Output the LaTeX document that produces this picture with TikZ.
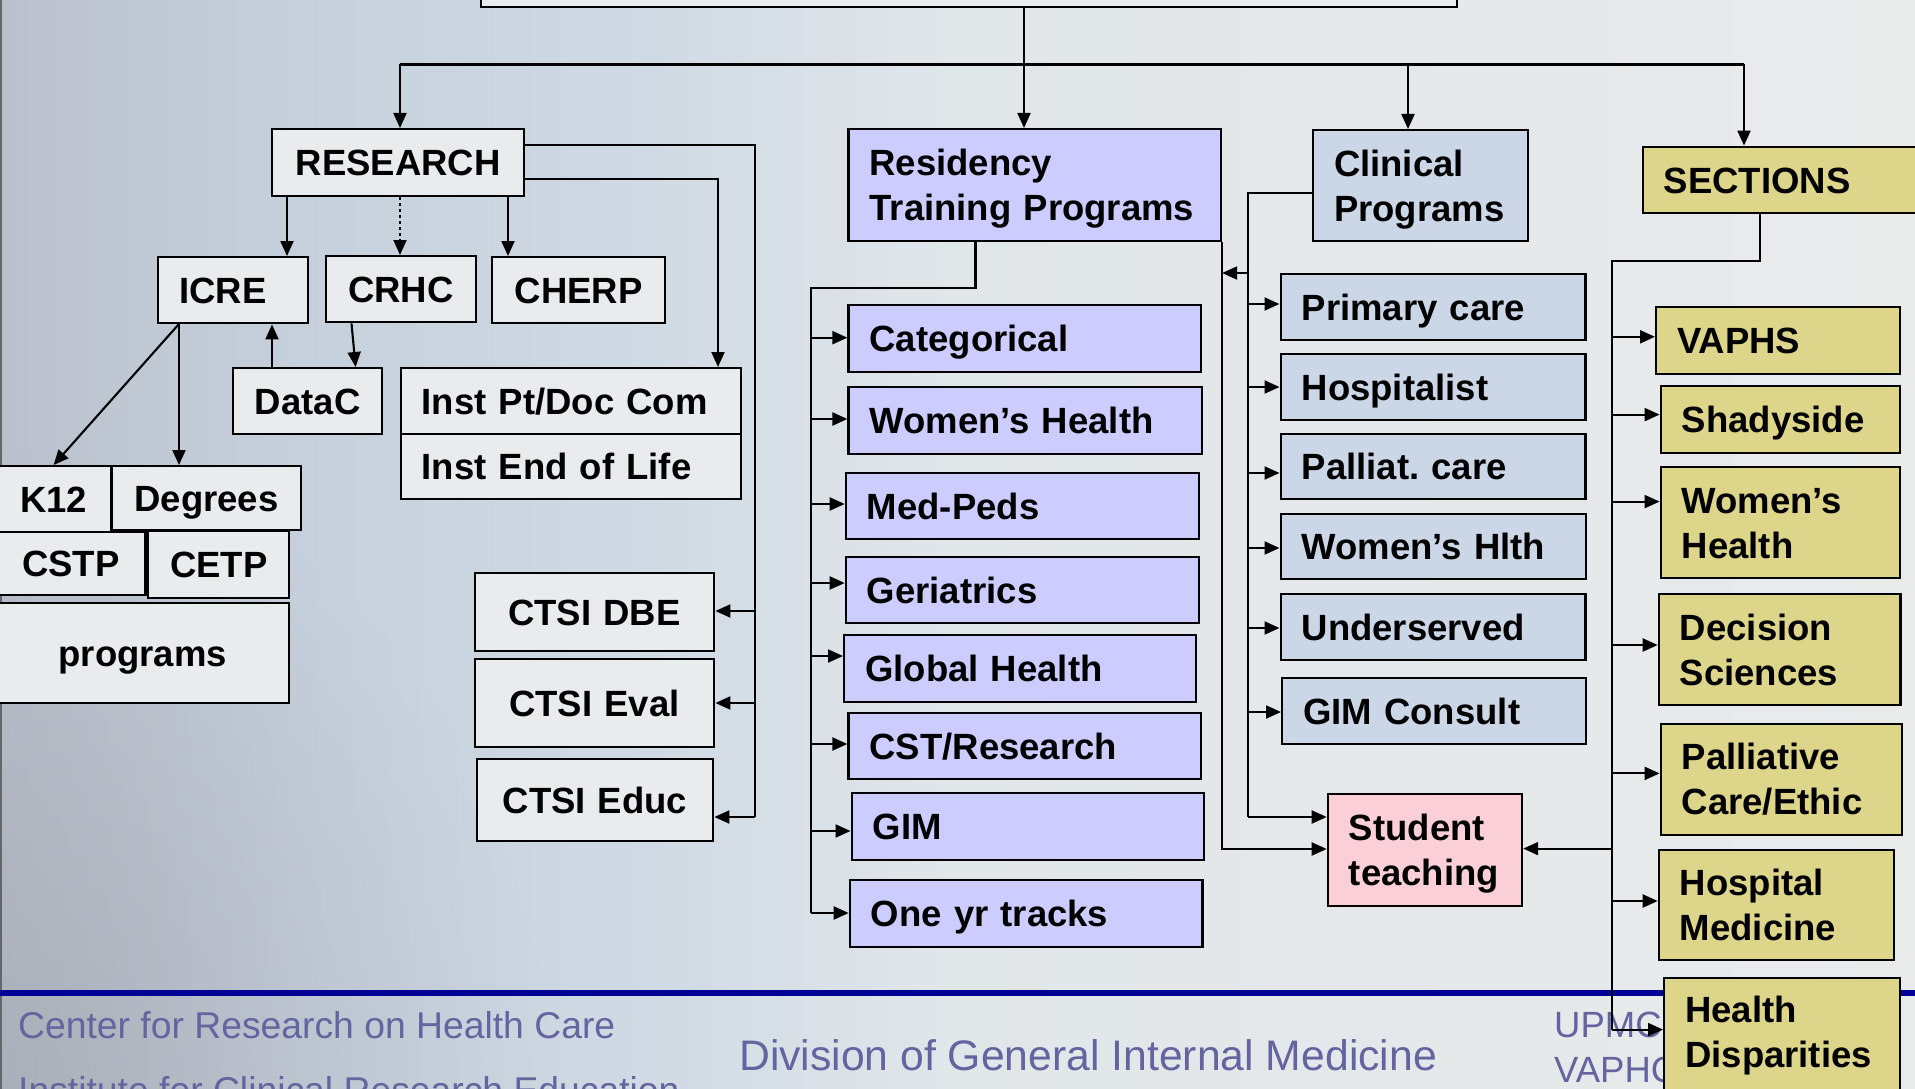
\documentclass[tikz,border=0pt]{standalone}
\usepackage{fontspec}
\setmainfont{Liberation Sans}
\usetikzlibrary{arrows.meta,fadings}
\definecolor{bgA}{RGB}{186,193,204}
\definecolor{bgB}{RGB}{198,208,220}
\definecolor{bgC}{RGB}{208,218,228}
\definecolor{bgD}{RGB}{225,230,233}
\definecolor{bgE}{RGB}{233,235,235}
\definecolor{bgDark}{RGB}{150,152,160}
\definecolor{boxgray}{RGB}{233,236,236}
\definecolor{lav}{RGB}{204,204,255}
\definecolor{clin}{RGB}{203,214,231}
\definecolor{khaki}{RGB}{221,213,138}
\definecolor{pinkbox}{RGB}{251,207,215}
\definecolor{navy}{RGB}{0,0,150}
\definecolor{foottext}{RGB}{100,100,160}
\tikzfading[name=blfade, inner color=transparent!0, outer color=transparent!100]
\newcommand\bx[7]{%
  \pgfmathsetmacro\bxw{#5-#3}%
  \pgfmathsetmacro\bxh{#6-#4}%
  \pgfmathsetmacro\bxtw{#5-#3-42}%
  \node[#1, anchor=north west, minimum width=\bxw pt, minimum height=\bxh pt, text width=\bxtw pt] (#2) at (#3,#4) {#7};}
\tikzset{
  boxbase/.style={draw=black, line width=2.4pt, inner xsep=21pt, inner ysep=0pt,
    font=\bfseries\fontsize{36.5}{45}\selectfont, text height=26.1pt, text depth=0pt, align=left},
  gbox/.style={boxbase, fill=boxgray},
  gboxc/.style={gbox, align=center},
  lbox/.style={boxbase, fill=lav},
  cbox/.style={boxbase, fill=clin},
  sbox/.style={boxbase, fill=khaki},
  pbox/.style={boxbase, fill=pinkbox},
  twoline/.style={text depth=45pt},
  conn/.style={line width=2.1pt, draw=black},
  arr/.style={conn, -{Triangle[length=15pt,width=13pt]}},
  dotarr/.style={arr, dash pattern=on 3pt off 3pt},
  foot/.style={text=foottext, inner sep=0pt, anchor=base west},
}
\begin{document}
\frenchspacing
\begin{tikzpicture}[x=1pt,y=-1pt]
\useasboundingbox (0,0) rectangle (1915,1089);
% background
\shade[left color=bgA, right color=bgB] (0,0) rectangle (301,1089);
\shade[left color=bgB, right color=bgC] (300,0) rectangle (651,1089);
\shade[left color=bgC, right color=bgD] (650,0) rectangle (951,1089);
\shade[left color=bgD, right color=bgE] (950,0) rectangle (1915,1089);
\fill[bgDark, fill opacity=0.45, path fading=blfade] (-550,450) rectangle (550,1750);
\draw[line width=1.5pt, black!60] (0.75,0) -- (0.75,1089);
% footer
\fill[navy] (0,990) rectangle (1915,996);
\node[foot, font=\fontsize{37.3}{37}\selectfont] (f1) at (18,1038) {Center for Research on Health Care};
\node[foot, font=\fontsize{37.3}{37}\selectfont] (f2) at (18,1103) {Institute for Clinical Research Education};
\node[foot, font=\fontsize{42.7}{43}\selectfont] (f3) at (739,1070) {Division of General Internal Medicine};
\node[foot, font=\fontsize{36.5}{37}\selectfont] (f4) at (1554,1037.5) {UPMC};
\node[foot, font=\fontsize{36.5}{37}\selectfont] (f5) at (1554,1082) {VAPHC};
% top box
\node[gbox, anchor=north west, minimum width=976pt, minimum height=40pt] (top) at (480,-34) {};
% research
\bx{gboxc}{research}{271}{128}{523}{195}{RESEARCH}
\bx{gbox}{icre}{157}{256}{307}{322}{ICRE}
\bx{gboxc}{crhc}{324.5}{255}{475}{321}{CRHC}
\bx{gboxc}{cherp}{491}{256}{664}{322}{CHERP}
\bx{gboxc}{datac}{232}{367}{381}{433}{DataC}
\bx{gbox}{instpt}{399.5}{367}{740}{433}{Inst Pt/Doc Com}
\bx{gbox}{instend}{399.5}{433}{740}{498}{Inst End of Life}
\bx{gboxc}{k12}{-5}{465}{110}{531}{K12}
\bx{gboxc}{degrees}{111}{465}{299.5}{529}{Degrees}
\bx{gboxc}{cstp}{-5}{531}{144.4}{594}{CSTP}
\bx{gboxc}{cetp}{147}{530}{288}{597}{CETP}
\bx{gboxc}{programs}{-5}{602}{288}{702}{programs}
\bx{gboxc}{dbe}{473.5}{572}{713}{650}{CTSI DBE}
\bx{gboxc}{eval}{473.5}{658}{713}{746}{CTSI Eval}
\bx{gboxc}{educ}{475.5}{758}{712}{840}{CTSI Educ}
% residency
\bx{lbox,twoline}{rtp}{847.4}{128}{1219.7}{240}{Residency\\Training Programs}
\bx{lbox}{cat}{847.4}{304}{1200}{371}{Categorical}
\bx{lbox}{wh}{847.4}{386}{1200.5}{453}{Women’s Health}
\bx{lbox}{mp}{844.7}{472}{1197.8}{538}{Med-Peds}
\bx{lbox}{ger}{844.7}{556}{1197.8}{622}{Geriatrics}
\bx{lbox}{glob}{843}{634}{1195}{701}{Global Health}
\bx{lbox}{cst}{847.4}{712}{1200}{778}{CST/Research}
\bx{lbox}{gim}{850.5}{792}{1203}{859}{GIM}
\bx{lbox}{one}{848.7}{879}{1201.4}{946}{One yr tracks}
% clinical
\bx{cbox,twoline}{clin}{1311.8}{129}{1526.7}{240}{Clinical\\Programs}
\bx{cbox}{prim}{1279.5}{273}{1584.3}{339}{Primary care}
\bx{cbox}{hosp}{1279.5}{353}{1584.3}{419}{Hospitalist}
\bx{cbox}{pall}{1279.5}{433}{1584.3}{498}{Palliat.\ care}
\bx{cbox}{whl}{1279.5}{513}{1585}{578}{Women’s Hlth}
\bx{cbox}{und}{1279.5}{593}{1584.3}{659}{Underserved}
\bx{cbox}{gimc}{1281}{677}{1585}{743}{GIM Consult}
\bx{pbox,twoline}{student}{1326.7}{793}{1520.8}{904.5}{Student\\teaching}
% sections
\bx{sbox}{sections}{1641.6}{145.6}{1930}{212}{SECTIONS}
\bx{sbox}{vaphs}{1655}{306}{1899}{373}{VAPHS}
\bx{sbox}{shady}{1659.6}{385}{1899}{451.5}{Shadyside}
\bx{sbox,twoline}{swh}{1659.6}{466}{1899}{577}{Women’s\\Health}
\bx{sbox,twoline}{dec}{1657.7}{593}{1899.3}{704}{Decision\\Sciences}
\bx{sbox,twoline}{spal}{1659.6}{722.7}{1901}{833.5}{Palliative\\Care/Ethic}
\bx{sbox,twoline}{shosp}{1657.7}{849}{1892.6}{959}{Hospital\\Medicine}
\bx{sbox,twoline,text depth=56pt}{hd}{1663}{977}{1899}{1095}{Health\\Disparities}
% connectors: top bus
\coordinate (bus) at (400,64.5);
\coordinate (busR) at (1744,64.5);
\coordinate (tx) at (1024,0);
\coordinate (cx) at (1408,0);
\draw[conn] (bus) -- (busR);
\draw[arr] (top.south -| tx) -- (rtp.north -| tx);
\draw[arr] (bus) -- (research.north -| bus);
\draw[arr] (bus -| cx) -- (clin.north -| cx);
\draw[arr] (busR) -- (sections.north -| busR);
% research connectors
\coordinate (rv) at (755,0);
\draw[conn] (research.east |- 0,145) -- (rv |- 0,145) -- (rv |- 0,817);
\draw[arr] (rv |- 0,611) -- (dbe.east |- 0,611);
\draw[arr] (rv |- 0,703) -- (eval.east |- 0,703);
\draw[arr] (rv |- 0,817) -- (educ.east |- 0,817);
\draw[arr] (research.east |- 0,179) -| (instpt.north -| 718,0);
\draw[arr] (research.south -| 287,0) -- (icre.north -| 287,0);
\draw[dotarr] (research.south -| 400,0) -- (crhc.north -| 400,0);
\draw[arr] (research.south -| 508,0) -- (cherp.north -| 508,0);
\draw[arr] (icre.south -| 178.6,0) -- (k12.north -| 53.6,0);
\draw[arr] (icre.south -| 179,0) -- (degrees.north -| 179,0);
\draw[arr] (datac.north -| 272,0) -- (icre.south -| 272,0);
\draw[arr] (crhc.south -| 351.5,0) -- (datac.north -| 355.6,0);
% residency connectors
\coordinate (lv) at (811,0);
\draw[conn] (rtp.south -| 975.5,0) |- (lv |- 0,288) -- (lv |- 0,913);
\foreach \n/\y in {cat/337.7, wh/419, mp/504, ger/583, glob/656, cst/744, gim/831, one/913}
  \draw[arr] (lv |- 0,\y) -- (\n.west |- 0,\y);
\draw[arr] (rtp.south east) -- (rtp.south east |- 0,849) -- (student.west |- 0,849);
% clinical connectors
\coordinate (cv) at (1248,0);
\draw[conn] (clin.west |- 0,193) -- (cv |- 0,193) -- (cv |- 0,817);
\draw[arr] (cv |- 0,817) -- (student.west |- 0,817);
\draw[arr] (cv |- 0,273) -- (rtp.east |- 0,273);
\foreach \n/\y in {prim/304, hosp/387, pall/473, whl/548, und/628, gimc/712}
  \draw[arr] (cv |- 0,\y) -- (\n.west |- 0,\y);
% sections connectors
\coordinate (sv) at (1612,0);
\draw[conn] (sections.south -| 1759.7,0) |- (sv |- 0,261) -- (sv |- 0,1029.6);
\draw[arr] (sv |- 0,1029.6) -- (hd.west |- 0,1029.6);
\foreach \n/\y in {vaphs/336.8, shady/414.6, swh/501.6, dec/645, spal/773.4, shosp/901}
  \draw[arr] (sv |- 0,\y) -- (\n.west |- 0,\y);
\draw[arr] (sv |- 0,848.6) -- (student.east |- 0,848.6);
\end{tikzpicture}
\end{document}
